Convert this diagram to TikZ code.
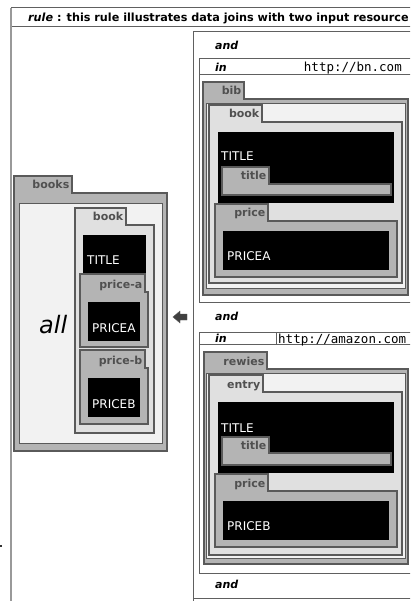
\documentclass[tikz,border=0pt]{standalone}
\usepackage{fontspec}
\setmainfont{DejaVu Sans}
\newfontfamily\monof{DejaVu Sans Mono}
\definecolor{fgray}{HTML}{B4B4B4}
\definecolor{flight}{HTML}{E0E0E0}
\definecolor{fpanel}{HTML}{F2F2F2}
\definecolor{fline}{HTML}{5A5A5A}
\definecolor{tabtext}{HTML}{505050}
\definecolor{frameline}{HTML}{606060}
\tikzset{
  foldline/.style={draw=fline, line width=1.2pt, line join=miter},
  panelline/.style={draw=fline, line width=0.8pt, fill=fpanel},
  tablabel/.style={font=\fontsize{11}{11}\selectfont\bfseries, text=tabtext, inner sep=0pt, anchor=base east},
  blk/.style={fill=black},
  wtext/.style={font=\fontsize{12}{12}\selectfont, text=white, inner sep=0pt, anchor=base west},
  ital/.style={font=\fontsize{11}{11}\selectfont\bfseries\itshape, inner sep=0pt, anchor=base west},
  frame/.style={draw=frameline, line width=1pt},
  urltext/.style={font=\fontsize{12.5}{12.5}\selectfont\monof, inner sep=0pt},
}
\newcommand\folder[9]{%
  \draw[foldline, fill=#1] (#2,#3) -- (#4,#3) -- (#4,#5) -- (#6,#5) -- (#6,#7) -- (#2,#7) -- cycle;
  \node[tablabel] (#8) at ({#4-2.5},{#5-4}) {#9};}
\begin{document}
\begin{tikzpicture}[x=1pt,y=-1pt]
\useasboundingbox (0,0) rectangle (410,601);
\clip (0,0) rectangle (410,601);
\fill[white] (0,0) rectangle (410,601);
% header and outer frame
\draw[frame] (11,8) -- (412,8);
\draw[frame] (11,27) -- (412,27);
\draw[draw=gray!80, line width=1.8pt] (11,8) -- (11,603);
\node[font=\fontsize{11.2}{11.2}\selectfont\bfseries, inner sep=0pt, anchor=base west] (hdr) at (28,21.5) {\textit{rule} : this rule illustrates data joins with two input resource};
\fill[black!80] (0,545) rectangle (2,547);
% right column frame
\draw[frame] (193,603) -- (193,32) -- (412,32);
\draw[frame] (193,598) -- (412,598);
\node[ital] (and1) at (215,50) {and};
\node[ital] (and2) at (215,320) {and};
\node[ital] (and3) at (215,588) {and};
% box 1
\draw[frame] (199,302) -- (199,59) -- (412,59);
\draw[frame] (199,75) -- (412,75);
\draw[frame] (199,302) -- (412,302);
\node[ital] (in1) at (215,72) {in};
\node[urltext, anchor=base east] (url1) at (402,72) {http://bn.com};
\folder{fgray}{203}{82}{244}{99}{408}{295}{bib}{bib}
\draw[panelline] (206.5,103) rectangle (405,288.5);
\folder{flight}{209}{105}{262}{122}{402}{283}{book1}{book}
\fill[blk] (218,132) rectangle (394,203);
\node[wtext] (title1) at (221,161) {TITLE};
\folder{fgray}{222}{167}{269}{184}{391}{195}{tt1}{title}
\folder{fgray}{215}{204}{268}{221}{397}{277}{pr1}{price}
\fill[blk] (223,231) rectangle (389,270);
\node[wtext] (pa1) at (227,260) {PRICEA};
% box 2
\draw[frame] (199,573) -- (199,332) -- (412,332);
\draw[frame] (199,344) -- (412,344);
\draw[frame] (276,332) -- (276,344);
\draw[frame] (199,573) -- (412,573);
\node[ital] (in2) at (215,342) {in};
\node[urltext, anchor=base west] (url2) at (278,343) {http://amazon.com};
\folder{fgray}{204}{352}{267}{369}{408}{564}{rew}{rewies}
\draw[panelline] (206.5,373) rectangle (405,558.5);
\folder{flight}{209}{375}{263}{392}{402}{555}{entry}{entry}
\fill[blk] (218,402) rectangle (394,473);
\node[wtext] (title2) at (221,432) {TITLE};
\folder{fgray}{222}{437}{269}{453}{391}{465}{tt2}{title}
\folder{fgray}{215}{474}{268}{491}{397}{547}{pr2}{price}
\fill[blk] (223,501) rectangle (389,540);
\node[wtext] (pb2) at (227,530) {PRICEB};
% arrow
\draw[draw=fline, fill=black!75, line join=miter] (173,317) -- (180,311) -- (180,314) -- (187,314) -- (187,320) -- (180,320) -- (180,323) -- cycle;
% left column
\folder{fgray}{14}{176}{72}{193}{167}{451}{books}{books}
\draw[panelline] (19,203) rectangle (162,443);
\node[font=\fontsize{24}{24}\selectfont\itshape, inner sep=0pt, anchor=base west] (all) at (39,333) {all};
\folder{flight}{75}{208}{126}{225}{154}{433}{bookL}{book}
\fill[blk] (83,235) rectangle (146,273);
\node[wtext] (titleL) at (87,264) {TITLE};
\folder{fgray}{80}{274}{145}{292}{148}{347}{pa}{price-a}
\fill[blk] (88,302) rectangle (140,341);
\node[wtext] (paL) at (92,332) {PRICEA};
\folder{fgray}{80}{350}{145}{368}{148}{424}{pb}{price-b}
\fill[blk] (88,378) rectangle (140,417);
\node[wtext] (pbL) at (92,408) {PRICEB};
\end{tikzpicture}
\end{document}
